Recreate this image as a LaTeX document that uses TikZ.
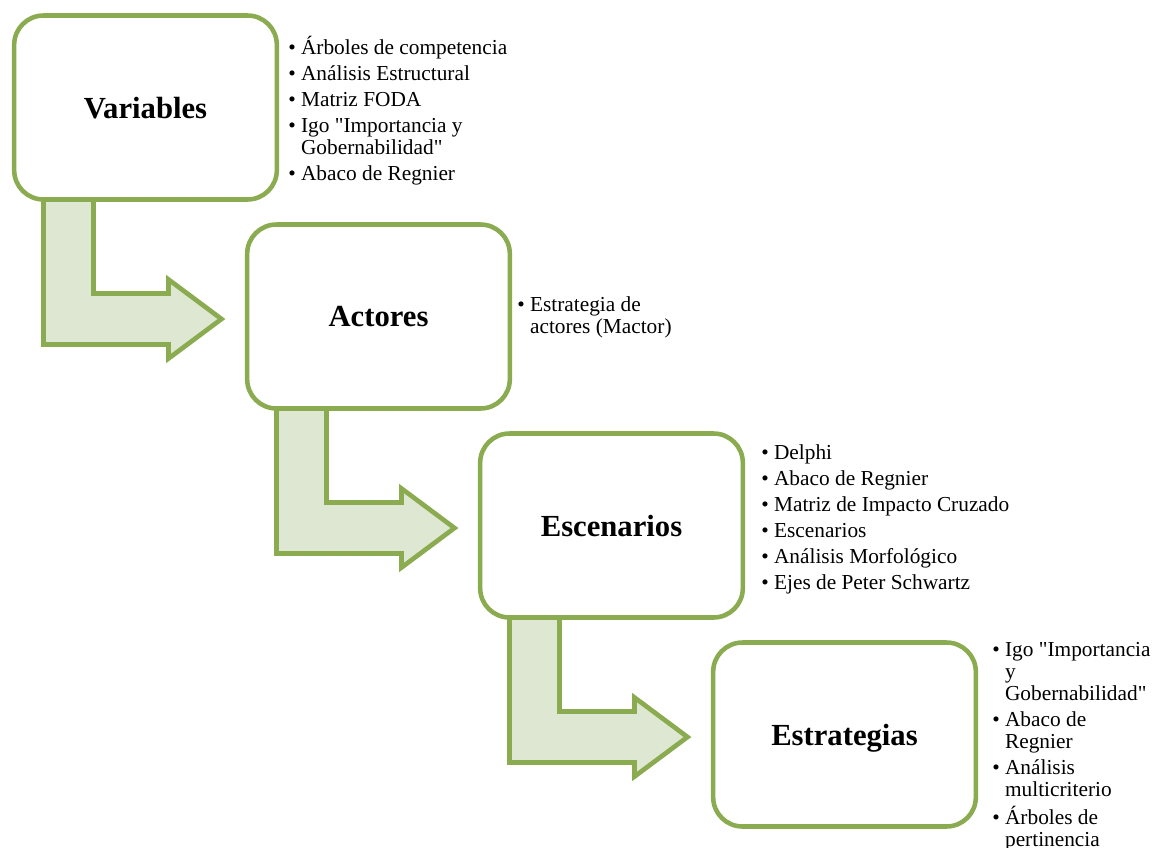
\documentclass[tikz,border=0pt]{standalone}
\usepackage{fontspec}
\setmainfont{Liberation Serif}[Ligatures=TeXOff]
\usetikzlibrary{positioning}
\definecolor{olgreen}{HTML}{8AAB4F}
\definecolor{olfill}{HTML}{DEE7D1}
\tikzset{bend/.pic={
    \draw[olgreen,line width=3.5pt,fill=olfill,line join=miter]
      (-102,60) -- (-102,237) -- (23,237) -- (23,251) -- (76,211.5)
      -- (23,172) -- (23,186) -- (-52,186) -- (-52,60) -- cycle;}}

\begin{document}
\begin{tikzpicture}[x=0.75pt,y=-0.75pt,
    b/.style={draw=olgreen,line width=3.4pt,fill=white,rounded corners=22pt,
      minimum width=197pt,minimum height=138pt,text depth=0pt,
      font=\fontsize{23}{27}\selectfont\bfseries},
    l/.style={anchor=base west,inner sep=0pt,font=\fontsize{16}{16.5}\selectfont}]
  \useasboundingbox (0,0) rectangle (1152,847);
  \foreach \k in {0,1,2}
    \pic at (145.5+233*\k,107.5+209*\k) {bend};
  \node[b] (v) at (145.5,107.5) {Variables};
  \node[b] (ac) at (378.5,316.5) {Actores};
  \node[b] (es) at (611.5,525.5) {Escenarios};
  \node[b] (et) at (844.5,734.5) {Estrategias};
  \node[l] (lv) at (288,54) {\begin{tabular}[t]{@{}l@{~}l@{}}
      \textbullet & Árboles de competencia\\[3pt]
      \textbullet & Análisis Estructural\\[3pt]
      \textbullet & Matriz FODA\\[3pt]
      \textbullet & Igo "Importancia y\\
                  & Gobernabilidad"\\[3pt]
      \textbullet & Abaco de Regnier
    \end{tabular}};
  \node[l] (lac) at (517,311.5) {\begin{tabular}[t]{@{}l@{~}l@{}}
      \textbullet & Estrategia de\\
                  & actores (Mactor)
    \end{tabular}};
  \node[l] (les) at (761,459) {\begin{tabular}[t]{@{}l@{~}l@{}}
      \textbullet & Delphi\\[3pt]
      \textbullet & Abaco de Regnier\\[3pt]
      \textbullet & Matriz de Impacto Cruzado\\[3pt]
      \textbullet & Escenarios\\[3pt]
      \textbullet & Análisis Morfológico\\[3pt]
      \textbullet & Ejes de Peter Schwartz
    \end{tabular}};
  \node[l] (let) at (992,656) {\begin{tabular}[t]{@{}l@{~}l@{}}
      \textbullet & Igo "Importancia\\
                  & y\\
                  & Gobernabilidad"\\[3pt]
      \textbullet & Abaco de\\
                  & Regnier\\[3pt]
      \textbullet & Análisis\\
                  & multicriterio\\[3pt]
      \textbullet & Árboles de\\
                  & pertinencia
    \end{tabular}};
\end{tikzpicture}
\end{document}
